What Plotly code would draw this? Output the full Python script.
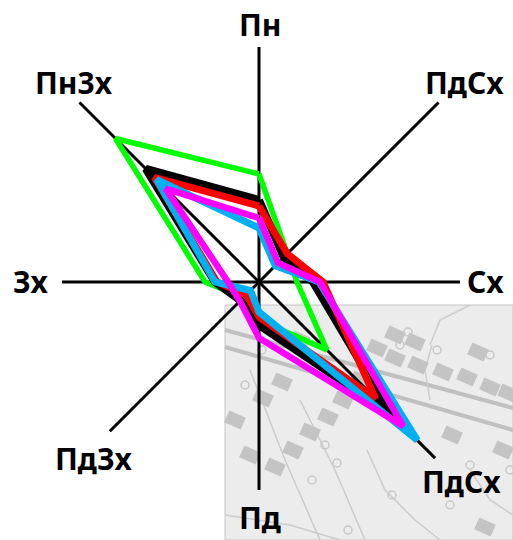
"""Роза вітрів на фрагменті плану місцевості."""
import math

import plotly.graph_objects as go

W, H = 513, 540
CX, CY, R = 259, 282, 254

# напрямки за годинниковою стрілкою від півночі
directions = ["Пн", "ПнСх", "Сх", "ПдСх", "Пд", "ПдЗх", "Зх", "ПнЗх"]

spoke_len = [235, 257, 201, 249, 208, 211, 197, 256]

green = [108, 40, 38, 96, 38, 22, 54, 203]
black = [82, 35, 54, 187, 43, 26, 44, 160]
red = [76, 40, 64, 165, 35, 18, 42, 148]
blue = [54, 23, 60, 224, 30, 12, 44, 145]
magenta = [64, 27, 61, 204, 56, 27, 31, 132]

series = [
    (green, "#00ff00", 5.5),
    (black, "#000000", 8),
    (red, "#ff0000", 7),
    (blue, "#00b0f0", 7),
    (magenta, "#ff00ff", 6.5),
]

labels = [
    ("Пн", 260, 25),
    ("ПдСх", 464, 82),
    ("Сх", 485, 281),
    ("ПдСх", 461, 481),
    ("Пд", 260, 517),
    ("ПдЗх", 93, 458),
    ("Зх", 30, 281),
    ("Пн3х", 74, 82),
]

# фон: план місцевості
map_left, map_top = 225, 305
roads = [((225, 330), (513, 408)), ((225, 347), (513, 430))]
buildings = [
    (377, 348), (395, 358), (418, 365), (443, 372), (467, 377), (490, 387), (508, 393),
    (282, 382), (263, 398), (235, 420), (328, 417), (310, 432), (343, 400), (275, 467),
    (293, 450), (452, 435), (503, 450), (485, 527), (300, 340), (478, 352), (395, 335),
    (415, 342), (250, 455), (360, 380),
]
contours = [
    [(367, 450), (385, 490), (415, 520), (440, 540)],
    [(300, 400), (335, 470), (365, 540)],
    [(430, 345), (440, 320), (470, 305)],
    [(225, 515), (290, 525), (340, 540)],
    [(430, 400), (425, 370), (432, 345)],
    [(470, 470), (490, 500), (513, 515)],
    [(250, 370), (285, 460), (320, 540)],
]
rings = [
    (437, 350), (490, 355), (400, 345), (408, 332), (325, 445), (337, 463), (312, 480),
    (348, 530), (392, 495), (470, 465), (510, 470), (450, 505), (262, 350), (245, 385),
]


def px(x):
    return x / W


def py(y):
    return 1 - y / H


def building_path(x, y, w=18, h=13, angle=24):
    a = math.radians(angle)
    pts = []
    for dx, dy in [(-w / 2, -h / 2), (w / 2, -h / 2), (w / 2, h / 2), (-w / 2, h / 2)]:
        pts.append((px(x + dx * math.cos(a) - dy * math.sin(a)), py(y + dx * math.sin(a) + dy * math.cos(a))))
    return "M" + " L".join(f"{p[0]:.4f},{p[1]:.4f}" for p in pts) + " Z"


shapes = [
    dict(type="rect", xref="paper", yref="paper", x0=px(map_left), x1=1, y0=0, y1=py(map_top),
         fillcolor="#ececec", line=dict(color="#c4c4c4", width=1), layer="below"),
]
for (x0, y0), (x1, y1) in roads:
    shapes.append(dict(type="line", xref="paper", yref="paper", x0=px(x0), y0=py(y0), x1=px(x1), y1=py(y1),
                       line=dict(color="#c0c0c0", width=4), layer="below"))
for c in contours:
    d = "M" + " L".join(f"{px(x):.4f},{py(y):.4f}" for x, y in c)
    shapes.append(dict(type="path", xref="paper", yref="paper", path=d,
                       line=dict(color="#cccccc", width=1.5), layer="below"))
for x, y in buildings:
    shapes.append(dict(type="path", xref="paper", yref="paper", path=building_path(x, y),
                       fillcolor="#c4c4c4", line=dict(width=0), layer="below"))
for x, y in rings:
    shapes.append(dict(type="circle", xref="paper", yref="paper", x0=px(x - 4), x1=px(x + 4), y0=py(y + 4), y1=py(y - 4),
                       line=dict(color="#c8c8c8", width=1.5), layer="below"))

fig = go.Figure()

for d, length in zip(directions, spoke_len):
    fig.add_trace(go.Scatterpolar(r=[0, length], theta=[d, d], mode="lines", cliponaxis=False,
                                  line=dict(color="black", width=3), hoverinfo="skip"))

for values, color, width in series:
    fig.add_trace(go.Scatterpolar(r=values + values[:1], theta=directions + directions[:1], mode="lines",
                                  line=dict(color=color, width=width)))

for text, x, y in labels:
    fig.add_annotation(text=f"<b>{text}</b>", xref="paper", yref="paper", x=px(x), y=py(y),
                       xanchor="center", yanchor="middle", showarrow=False,
                       font=dict(family="Noto Sans", size=30, color="black"))

fig.update_layout(
    width=W,
    height=H,
    margin=dict(l=0, r=0, t=0, b=0),
    autosize=False,
    paper_bgcolor="white",
    showlegend=False,
    shapes=shapes,
    polar=dict(
        domain=dict(x=[px(CX - R), px(CX + R)], y=[py(CY + R), py(CY - R)]),
        bgcolor="rgba(0,0,0,0)",
        radialaxis=dict(range=[0, R], visible=False),
        angularaxis=dict(visible=False, direction="clockwise", rotation=90,
                         type="category", categoryorder="array", categoryarray=directions),
    ),
)

fig.write_html("out.html", config={"displayModeBar": False},
               post_script="document.body.style.margin='0';document.body.style.overflow='hidden';")
